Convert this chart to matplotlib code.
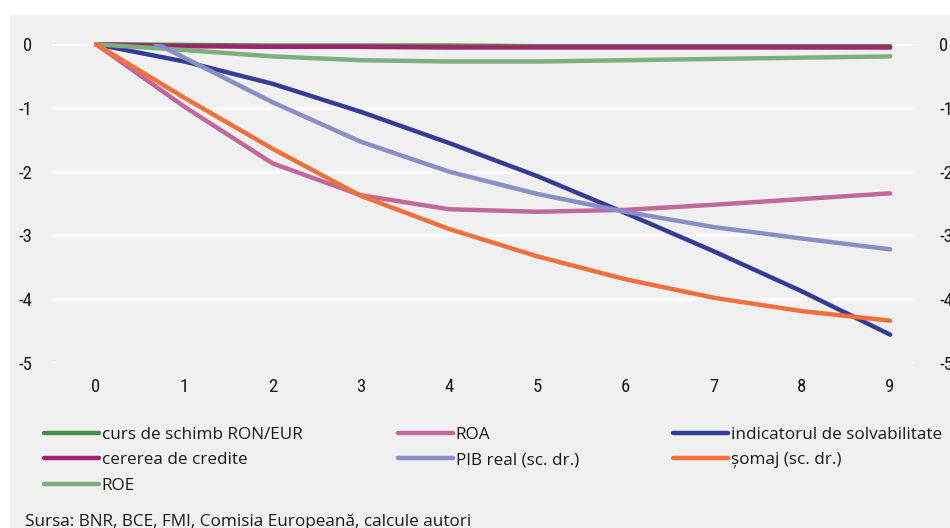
import matplotlib
matplotlib.use("Agg")
import matplotlib.pyplot as plt
from matplotlib import font_manager
from matplotlib.lines import Line2D
from matplotlib.patches import Rectangle

# ---- data ----
steps = [0, 1, 2, 3, 4, 5, 6, 7, 8, 9]
curs_ron_eur = [0, -0.01, -0.02, -0.02, -0.02, -0.03, -0.03, -0.03, -0.03, -0.03]
cererea_credite = [0, -0.03, -0.04, -0.04, -0.05, -0.05, -0.05, -0.05, -0.05, -0.05]
roe = [0, -0.09, -0.19, -0.25, -0.27, -0.27, -0.25, -0.23, -0.21, -0.19]
roa = [0, -0.98, -1.87, -2.37, -2.59, -2.63, -2.60, -2.52, -2.43, -2.34]
solvabilitate = [0, -0.27, -0.62, -1.06, -1.55, -2.07, -2.65, -3.25, -3.88, -4.56]
pib_real = [0.48, -0.21, -0.91, -1.53, -2.00, -2.35, -2.63, -2.87, -3.05, -3.22]
somaj = [0, -0.84, -1.64, -2.38, -2.90, -3.33, -3.69, -3.98, -4.19, -4.34]
y_ticks = [0, -1, -2, -3, -4, -5]
source_text = "Sursa: BNR, BCE, FMI, Comisia Europeană, calcule autori"

# ---- fonts ----
available = {f.name for f in font_manager.fontManager.ttflist}
def pick(cands):
    for c in cands:
        if c in available:
            return c
    return "DejaVu Sans"
tick_font = pick(["Liberation Sans Narrow", "Roboto Condensed", "DejaVu Sans"])
text_font = pick(["Open Sans", "Noto Sans", "Lato", "DejaVu Sans"])

# ---- colours ----
c_curs = "#4b8a4b"
c_cerere = "#a2226b"
c_roe = "#7dae7d"
c_roa = "#c26898"
c_pib = "#8b8dc7"
c_solv = "#343c95"
c_somaj = "#f4703b"
bg = "#f0f0f0"

W, H = 950, 528
fig = plt.figure(figsize=(W / 100, H / 100), dpi=100)
fig.patch.set_facecolor("white")
fig.patches.append(Rectangle((10 / W, 0), 1 - 10 / W, 1 - 15 / H,
                             transform=fig.transFigure, facecolor=bg,
                             edgecolor="none", zorder=-5))

ax_l, ax_r = 52 / W, 914 / W
ax_top, ax_bot = 1 - 44.3 / H, 1 - 362.7 / H
ax = fig.add_axes([ax_l, ax_bot, ax_r - ax_l, ax_top - ax_bot])
ax.set_facecolor("none")
ax2 = ax.twinx()

lw = 3.2
kw = dict(lw=lw, solid_capstyle="round", solid_joinstyle="round")
ax.plot(steps, solvabilitate, color=c_solv, clip_on=False, zorder=3, **kw)
ax.plot(steps, roa, color=c_roa, clip_on=False, zorder=4, **kw)
ax.plot(steps, curs_ron_eur, color=c_curs, clip_on=False, zorder=5, **kw)
ax.plot(steps, cererea_credite, color=c_cerere, clip_on=False, zorder=6, **kw)
ax.plot(steps, roe, color=c_roe, clip_on=False, zorder=7, **kw)
ax2.plot(steps, pib_real, color=c_pib, clip_on=True, zorder=3, **kw)
ax2.plot(steps, somaj, color=c_somaj, clip_on=False, zorder=4, **kw)

ax.set_xticks(steps)
ax.set_xticklabels([str(s) for s in steps])
for a in (ax, ax2):
    a.set_ylim(-5, 0)
    a.set_xlim(-0.5, 9.27)
    a.set_yticks(y_ticks)
    a.set_yticklabels([str(v) for v in y_ticks])
    for s in a.spines.values():
        s.set_visible(False)
    a.tick_params(length=0, labelsize=13.5)
    for lab in a.get_yticklabels() + a.get_xticklabels():
        lab.set_fontfamily(tick_font)
        lab.set_color("#1a1a1a")

ax.tick_params(axis="y", pad=14)
ax.tick_params(axis="x", pad=11)
ax2.tick_params(axis="y", pad=18)
ax.grid(axis="y", color="white", lw=2.0, zorder=1)
ax.grid(axis="x", visible=False)
ax.set_axisbelow(True)

# ---- legend: three columns ----
def handle(color):
    return Line2D([0], [0], color=color, lw=lw, solid_capstyle="round")

columns = [
    ([handle(c_curs), handle(c_cerere), handle(c_roe)],
     ["curs de schimb RON/EUR", "cererea de credite", "ROE"], 44),
    ([handle(c_roa), handle(c_pib)],
     ["ROA", "PIB real (sc. dr.)"], 398),
    ([handle(c_solv), handle(c_somaj)],
     ["indicatorul de solvabilitate", "șomaj (sc. dr.)"], 673),
]
fs_leg = 12.3
for hs, labels, x0 in columns:
    leg = fig.legend(hs, labels, loc="upper left",
                     bbox_to_anchor=(x0 / W, 1 - 427 / H),
                     frameon=False,
                     prop={"family": text_font, "size": fs_leg},
                     handlelength=55 / (fs_leg * 100 / 72),
                     handletextpad=0.15, labelspacing=0.55,
                     borderpad=0, borderaxespad=0)
    for t in leg.get_texts():
        t.set_color("#1a1a1a")

fig.text(25 / W, 1 - 514 / H, source_text, ha="left", va="top",
         fontsize=12.3, family=text_font, color="#1a1a1a")

fig.savefig("out.png", dpi=100, facecolor=fig.get_facecolor())
